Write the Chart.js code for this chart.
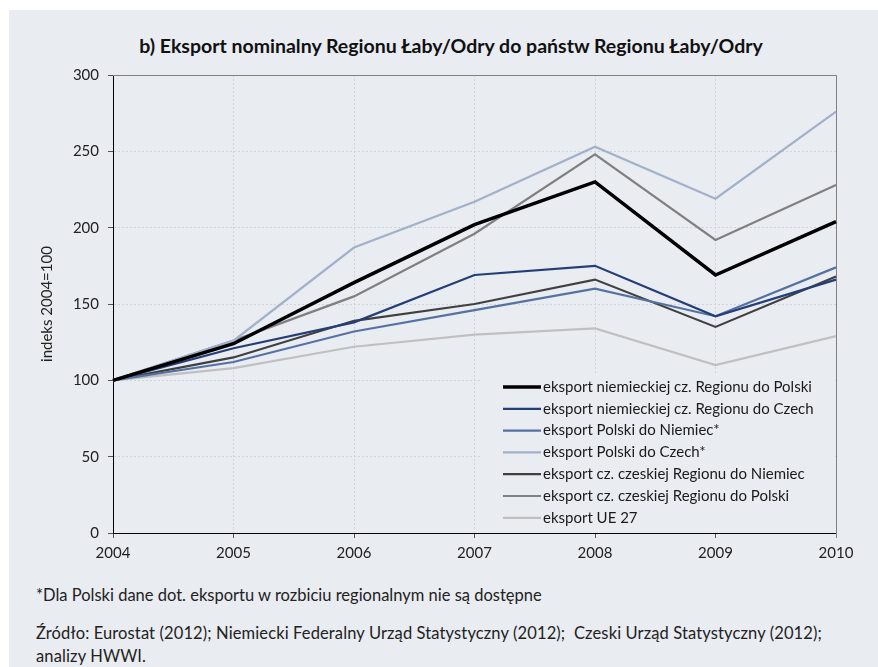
<!DOCTYPE html>
<html lang="pl">
<head>
<meta charset="utf-8">
<title>Eksport nominalny Regionu Łaby/Odry</title>
<script src="https://cdn.jsdelivr.net/npm/chart.js@4.4.1/dist/chart.umd.min.js"></script>
<style>
  html, body { margin: 0; padding: 0; background: #fff; }
  body { width: 878px; height: 667px; position: relative; overflow: hidden; font-family: Lato, sans-serif; }
  #panel { position: absolute; left: 9px; top: 10px; width: 869px; height: 657px; background: #e9ecf1; }
  #wrap { position: absolute; left: 0; top: 0; width: 878px; height: 580px; }
  #title { position: absolute; left: 0; width: 902px; top: 34px; text-align: center; font-weight: bold; font-size: 19.5px; color: #111; }
  .note { position: absolute; left: 36px; font-size: 16.5px; color: #222; white-space: nowrap; }
</style>
</head>
<body>
<div id="panel"></div>
<div id="title">b) Eksport nominalny Regionu Łaby/Odry do państw Regionu Łaby/Odry</div>
<div id="wrap"><canvas id="chart" width="878" height="580"></canvas></div>
<div class="note" style="top:585px; line-height:21px">*Dla Polski dane dot. eksportu w rozbiciu regionalnym nie są dostępne</div>
<div class="note" style="top:622px; line-height:23px; letter-spacing:0.12px">Źródło: Eurostat (2012); Niemiecki Federalny Urząd Statystyczny (2012);&nbsp; Czeski Urząd Statystyczny (2012);<br>analizy HWWI.</div>
<script>
// dane
const years = ['2004', '2005', '2006', '2007', '2008', '2009', '2010'];
const yTicks = [0, 50, 100, 150, 200, 250, 300];

const niemDoPolski = [100, 124, 164, 202, 230, 169, 204];
const niemDoCzech = [100, 121, 138, 169, 175, 142, 166];
const polskaDoNiemiec = [100, 112, 132, 146, 160, 142, 174];
const polskaDoCzech = [100, 126, 187, 217, 253, 219, 276];
const czDoNiemiec = [100, 115, 139, 150, 166, 135, 168];
const czDoPolski = [100, 126, 155, 196, 248, 192, 228];
const ue27 = [100, 108, 122, 130, 134, 110, 129];

const seriesNames = [
    'eksport niemieckiej cz. Regionu do Polski',
    'eksport niemieckiej cz. Regionu do Czech',
    'eksport Polski do Niemiec*',
    'eksport Polski do Czech*',
    'eksport cz. czeskiej Regionu do Niemiec',
    'eksport cz. czeskiej Regionu do Polski',
    'eksport UE 27'
];
const seriesData = [niemDoPolski, niemDoCzech, polskaDoNiemiec, polskaDoCzech, czDoNiemiec, czDoPolski, ue27];
const seriesColors = ['#000000', '#243f78', '#5672a2', '#a2b1ca', '#404040', '#808080', '#c0c0c0'];
const seriesWidths = [3.5, 2.2, 2.2, 2.2, 2.2, 2.2, 2.2];

const BG = '#e9ecf1';

// ramka wykresu (góra i prawa)
const frame = {
    id: 'frame',
    beforeDatasetsDraw(chart) {
        const {ctx, chartArea: a} = chart;
        ctx.save();
        ctx.strokeStyle = '#808080';
        ctx.lineWidth = 1;
        ctx.beginPath();
        ctx.moveTo(a.left, a.top + 0.5);
        ctx.lineTo(a.right + 0.5, a.top + 0.5);
        ctx.lineTo(a.right + 0.5, a.bottom + 5);
        ctx.stroke();
        ctx.restore();
    }
};

// legenda wewnątrz wykresu
const innerLegend = {
    id: 'innerLegend',
    afterDatasetsDraw(chart) {
        const {ctx, chartArea: a} = chart;
        ctx.save();
        ctx.fillStyle = BG;
        ctx.fillRect(480, 375, a.right - 481, a.bottom - 376);
        ctx.font = '15px Lato';
        ctx.textBaseline = 'middle';
        chart.data.datasets.forEach((ds, i) => {
            const y = 387 + i * 21.8;
            ctx.strokeStyle = ds.borderColor;
            ctx.lineWidth = ds.borderWidth;
            ctx.beginPath();
            ctx.moveTo(503, y);
            ctx.lineTo(541, y);
            ctx.stroke();
            ctx.fillStyle = '#1a1a1a';
            ctx.fillText(ds.label, 543, y);
        });
        ctx.restore();
    }
};

const ctx = document.getElementById('chart').getContext('2d');

new Chart(ctx, {
    type: 'line',
    data: {
        labels: years,
        datasets: seriesNames.map((name, i) => ({
            label: name,
            data: seriesData[i],
            borderColor: seriesColors[i],
            backgroundColor: seriesColors[i],
            borderWidth: seriesWidths[i],
            pointRadius: 0,
            tension: 0,
            fill: false
        }))
    },
    options: {
        responsive: false,
        animation: false,
        layout: { padding: { top: 75, right: 42, left: 0, bottom: 0 } },
        plugins: {
            legend: { display: false },
            title: { display: false },
            tooltip: { enabled: false }
        },
        scales: {
            x: {
                offset: false,
                afterFit: (s) => { s.height = 47; },
                grid: {
                    color: '#d0d3d9',
                    tickLength: 5,
                    tickColor: '#555',
                    tickBorderDash: []
                },
                border: { color: '#000', width: 1, dash: [2, 2] },
                ticks: { color: '#222', font: { family: 'Lato', size: 15 }, padding: 6, maxRotation: 0 }
            },
            y: {
                min: 0,
                max: 300,
                afterFit: (s) => { s.width = 113; },
                afterBuildTicks: (s) => { s.ticks = yTicks.map(v => ({ value: v })); },
                grid: {
                    color: '#d0d3d9',
                    tickLength: 5,
                    tickColor: '#555',
                    tickBorderDash: []
                },
                border: { color: '#000', width: 1, dash: [2, 2] },
                ticks: { color: '#222', font: { family: 'Lato', size: 15 }, padding: 9 },
                title: {
                    display: true,
                    text: 'indeks 2004=100',
                    color: '#222',
                    font: { family: 'Lato', size: 15 },
                    padding: { top: 38 }
                }
            }
        }
    },
    plugins: [frame, innerLegend]
});
</script>
</body>
</html>
